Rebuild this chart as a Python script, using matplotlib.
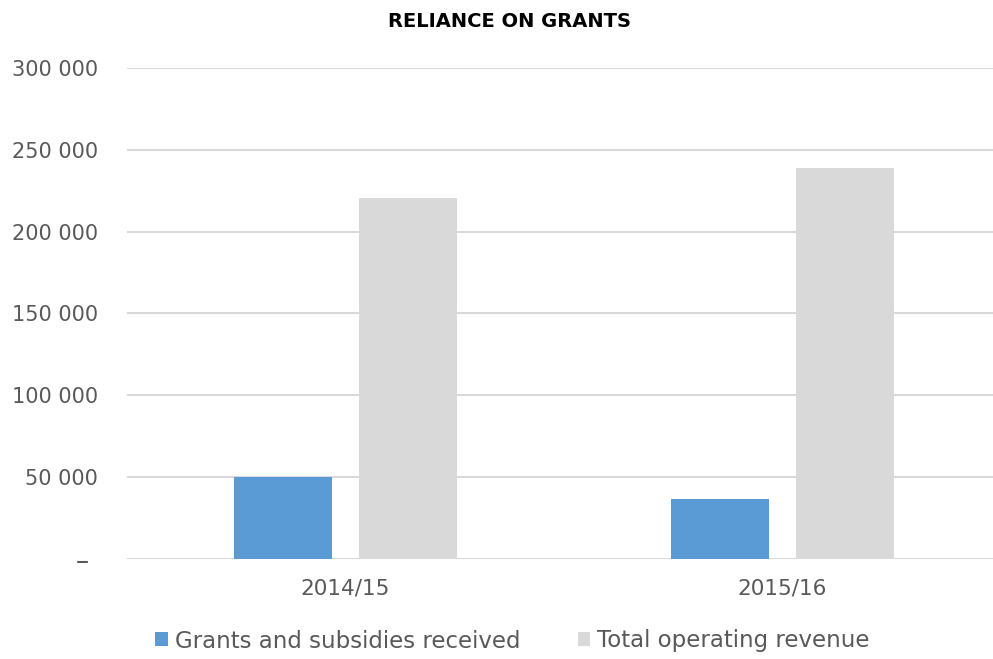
import matplotlib.pyplot as plt
import numpy as np

years = ["2014/15", "2015/16"]
grants = [50000, 36300]
revenue = [220300, 238800]
y_ticks = [0, 50000, 100000, 150000, 200000, 250000, 300000]
y_labels = ["– ", "50 000", "100 000", "150 000", "200 000", "250 000", "300 000"]

plt.rcParams['font.family'] = ['DejaVu Sans']
grey_txt = "#595959"

fig = plt.figure(figsize=(9.93, 6.59), dpi=100)
ax = fig.add_axes([127/993, 1 - 558.7/659, 1 - 127/993, (558.7 - 68)/659])

x = np.arange(len(years))
w = 0.224
ax.bar(x - 0.143, grants, w, color="#5B9BD5", label="Grants and subsidies received", zorder=3)
ax.bar(x + 0.143, revenue, w, color="#D9D9D9", label="Total operating revenue", zorder=3)

ax.set_xlim(-0.5, 1.5 - 8/438)
ax.set_ylim(0, 300000)
ax.set_yticks(y_ticks)
ax.set_yticklabels(y_labels)
ax.set_xticks(x)
ax.set_xticklabels(years)
ax.grid(axis="y", color="#D9D9D9", linewidth=1.5, zorder=0)
for s in ax.spines.values():
    s.set_visible(False)
ax.tick_params(axis="y", length=0, pad=21, labelsize=15, labelcolor=grey_txt)
ax.tick_params(axis="x", length=0, pad=14, labelsize=15.5, labelcolor=grey_txt)
# dash at zero a bit bigger, like the accounting format
ax.get_yticklabels()[0].set_fontsize(19)

fig.text(0.513, 0.968, "RELIANCE ON GRANTS", ha="center", va="center",
         fontsize=14, fontweight="bold", color="black")

fig.legend(loc="center", bbox_to_anchor=(0.516, 1 - 641/659), ncol=2, frameon=False,
           fontsize=16.5, labelcolor=grey_txt, handlelength=0.55, handleheight=0.55,
           handletextpad=0.3, columnspacing=2.5)

fig.savefig("out.png", dpi=100)
